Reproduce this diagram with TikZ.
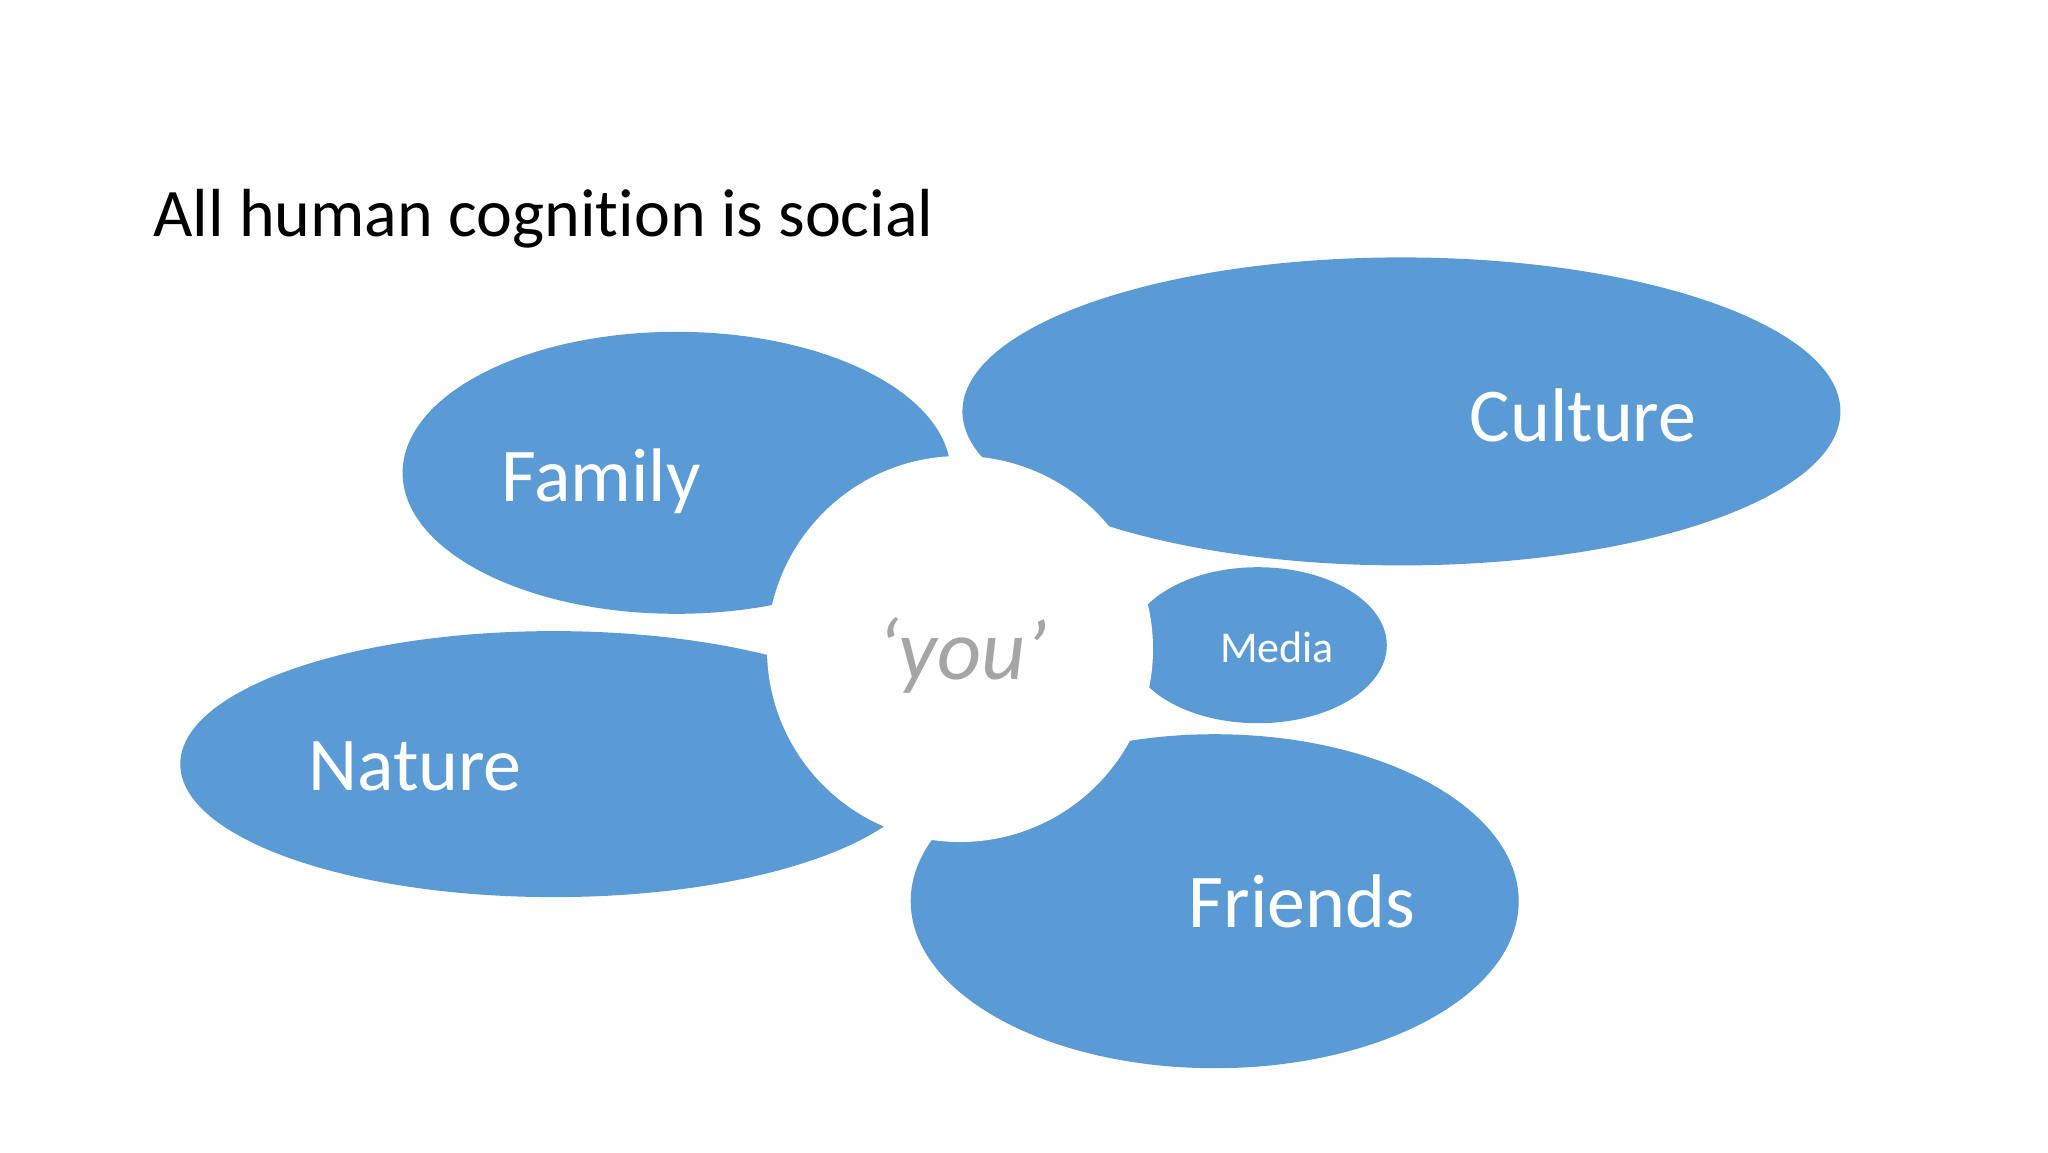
\documentclass[tikz,border=0pt]{standalone}
\usepackage{fontspec}
\setmainfont{Carlito}[Ligatures=NoCommon]
\usetikzlibrary{shapes.geometric}
\definecolor{petal}{HTML}{5B9BD5}
\definecolor{yougray}{HTML}{A5A5A5}
\begin{document}
\begin{tikzpicture}[x=0.5pt,y=-0.5pt,
  petalshape/.style={ellipse,fill=petal,draw=none,inner sep=0pt},
  petaltext/.style={anchor=base,text=white,font=\fontsize{38}{44}\selectfont,inner sep=0pt},
  hub/.style={circle,fill=white,draw=none,inner sep=0pt,minimum size=193pt}]
\useasboundingbox[fill=white] (0,0) rectangle (2048,1152);
\node[anchor=base west,inner sep=0pt,font=\fontsize{34}{40}\selectfont] (title) at (152.8,236.4) {All human cognition is social};
\node[petalshape,minimum width=274pt,minimum height=141pt] (family) at (676.6,472.8) {};
\node[petalshape,minimum width=439pt,minimum height=154pt] (culture) at (1401.4,411.4) {};
\node[petalshape,minimum width=373.5pt,minimum height=133pt] (nature) at (553.8,764.1) {};
\node[petalshape,minimum width=129pt,minimum height=78pt] (media) at (1257.8,645.2) {};
\node[petalshape,minimum width=304pt,minimum height=167pt] (friends) at (1214.7,901.2) {};
\node[hub] (you) at (960,649) {};
\node[petaltext] (familyt) at (600.8,501.5) {Family};
\node[petaltext] (culturet) at (1583,441.5) {Culture};
\node[petaltext] (naturet) at (415,790) {Nature};
\node[petaltext] (friendst) at (1302,927) {Friends};
\node[petaltext,font=\fontsize{22}{26}\selectfont] (mediat) at (1277,662) {Media};
\node[anchor=base,inner sep=0pt,text=yougray,font=\fontsize{43}{48}\selectfont\itshape] (yout) at (962,679) {‘you’};
\end{tikzpicture}
\end{document}
